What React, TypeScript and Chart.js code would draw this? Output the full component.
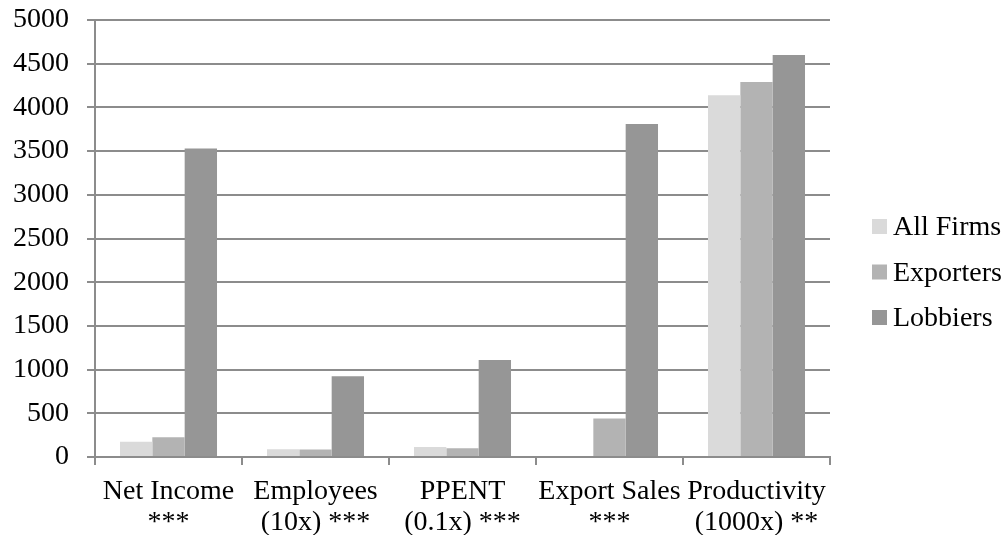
import React, { useEffect, useRef } from "react";
import { Chart, registerables } from "chart.js";

Chart.register(...registerables);

const categories: string[][] = [
  ["Net Income", "***"],
  ["Employees", "(10x) ***"],
  ["PPENT", "(0.1x) ***"],
  ["Export Sales", "***"],
  ["Productivity", "(1000x) **"],
];
const allFirms = [175, 90, 115, 0, 4140];
const exporters = [225, 85, 100, 440, 4290];
const lobbiers = [3530, 925, 1110, 3810, 4600];
const seriesNames = ["All Firms", "Exporters", "Lobbiers"];
const seriesColors = ["#dadada", "#b3b3b3", "#969696"];
const yTickStep = 500;
const yMax = 5000;

const FONT_FAMILY = "'Liberation Serif', 'Times New Roman', serif";
const FONT_SIZE = 28;

const legendPlugin = {
  id: "customLegend",
  afterDraw(chart: any) {
    const ctx = chart.ctx as CanvasRenderingContext2D;
    const area = chart.chartArea;
    const boxX = area.right + 42;
    const box = 15;
    const rowGap = 45.5;
    const centerY = 272;
    const n = chart.data.datasets.length;
    ctx.save();
    ctx.font = `${FONT_SIZE}px ${FONT_FAMILY}`;
    ctx.textAlign = "left";
    ctx.textBaseline = "alphabetic";
    chart.data.datasets.forEach((ds: any, i: number) => {
      const cy = centerY + (i - (n - 1) / 2) * rowGap;
      ctx.fillStyle = ds.backgroundColor;
      ctx.fillRect(boxX, cy - box / 2, box, box);
      ctx.fillStyle = "#000";
      ctx.fillText(ds.label, boxX + box + 6, cy + 8.5);
    });
    ctx.restore();
  },
};

export default function App() {
  const ref = useRef<HTMLCanvasElement | null>(null);
  useEffect(() => {
    document.body.style.margin = "0";
    const font = { family: FONT_FAMILY, size: FONT_SIZE, lineHeight: 1.08 };
    const chart = new Chart(ref.current!, {
      type: "bar",
      data: {
        labels: categories,
        datasets: [allFirms, exporters, lobbiers].map((d, i) => ({
          label: seriesNames[i],
          data: d,
          backgroundColor: seriesColors[i],
          borderWidth: 0,
          barPercentage: 1,
          categoryPercentage: 0.66,
        })),
      },
      plugins: [legendPlugin],
      options: {
        animation: false,
        responsive: false,
        layout: { padding: { left: 13, top: 20, right: 176, bottom: 0 } },
        plugins: {
          tooltip: { enabled: false },
          legend: { display: false },
        },
        scales: {
          x: {
            ticks: { font, color: "#000", maxRotation: 0, autoSkip: false, padding: 12 },
            grid: {
              offset: true,
              drawOnChartArea: false,
              drawTicks: true,
              tickLength: 8,
              color: "#8c8c8c",
              lineWidth: 2,
            },
            border: { color: "#8c8c8c", width: 2 },
            afterFit: (s: any) => {
              s.paddingLeft = 0;
              s.paddingRight = 0;
              s.height = 78;
            },
          },
          y: {
            min: 0,
            max: yMax,
            ticks: {
              stepSize: yTickStep,
              font,
              color: "#000",
              padding: 18,
              callback: (v: any) => String(v),
            },
            grid: { color: "#8c8c8c", lineWidth: 2, tickLength: 8 },
            border: { color: "#8c8c8c", width: 2 },
            afterFit: (s: any) => {
              s.paddingTop = 0;
              s.paddingBottom = 0;
              s.width = 82;
            },
          },
        },
      },
    });
    return () => chart.destroy();
  }, []);
  return (
    <div style={{ position: "fixed", left: 0, top: 0, width: 1006, height: 535 }}>
      <canvas ref={ref} width={1006} height={535} style={{ width: 1006, height: 535 }} />
    </div>
  );
}
